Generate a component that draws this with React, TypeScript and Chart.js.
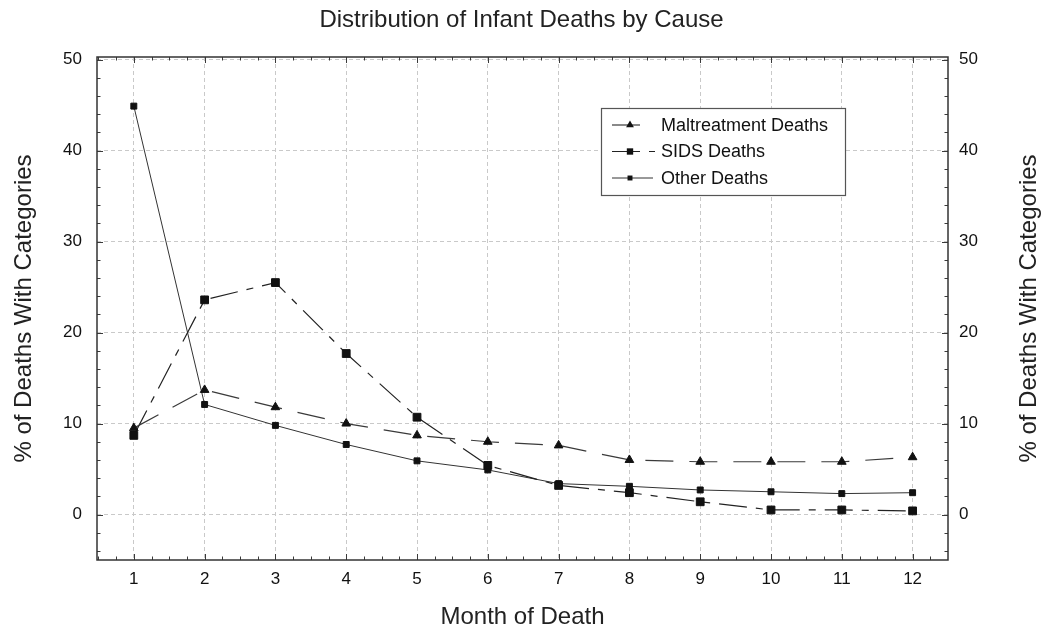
import React, { useEffect, useRef } from 'react';
import { Chart, registerables } from 'chart.js';

Chart.register(...registerables);

const FONT = "'Liberation Sans', Arial, Helvetica, sans-serif";

// ---- data ----
const months = [1, 2, 3, 4, 5, 6, 7, 8, 9, 10, 11, 12];
const maltreatmentDeaths = [9.5, 13.7, 11.8, 10.0, 8.7, 8.0, 7.6, 6.0, 5.8, 5.8, 5.8, 6.3];
const sidsDeaths = [8.7, 23.6, 25.5, 17.7, 10.7, 5.4, 3.2, 2.4, 1.4, 0.5, 0.5, 0.4];
const otherDeaths = [44.9, 12.1, 9.8, 7.7, 5.9, 4.9, 3.4, 3.1, 2.7, 2.5, 2.3, 2.4];
const yTickValues = [0, 10, 20, 30, 40, 50];
const seriesNames = ['Maltreatment Deaths', 'SIDS Deaths', 'Other Deaths'];
const chartTitle = 'Distribution of Infant Deaths by Cause';
const xAxisTitle = 'Month of Death';
const yAxisTitle = '% of Deaths With Categories';

const X_MIN = 0.48;
const X_MAX = 12.5;
const Y_MIN = -5;
const Y_MAX = 50.3;
const X_MINOR_STEP = 0.25;
const Y_MINOR_STEP = 2;

const toPoints = (vals: number[]) => months.map((m, i) => ({ x: m, y: vals[i] }));

const framePlugin = {
  id: 'frameTicks',
  afterDatasetsDraw(chart: any) {
    const { ctx, chartArea: a, scales } = chart;
    const xs = scales.x;
    const ys = scales.y;
    ctx.save();
    ctx.setLineDash([]);
    ctx.strokeStyle = '#3a3a3a';
    ctx.lineWidth = 1;
    ctx.beginPath();
    const nx = Math.round((X_MAX - 0.5) / X_MINOR_STEP);
    for (let i = 0; i <= nx; i++) {
      const v = 0.5 + i * X_MINOR_STEP;
      const px = Math.round(xs.getPixelForValue(v)) + 0.5;
      if (px <= a.left + 1 || px >= a.right - 1) continue;
      const major = Math.abs(v - Math.round(v)) < 1e-6;
      const len = major ? 6 : 3.5;
      ctx.moveTo(px, a.bottom);
      ctx.lineTo(px, a.bottom - len);
      ctx.moveTo(px, a.top);
      ctx.lineTo(px, a.top + len);
    }
    for (let v = -4; v <= 50; v += Y_MINOR_STEP) {
      const py = Math.round(ys.getPixelForValue(v)) + 0.5;
      if (py <= a.top + 1 || py >= a.bottom - 1) continue;
      const major = v % 10 === 0;
      const len = major ? 6 : 3.5;
      ctx.moveTo(a.left, py);
      ctx.lineTo(a.left + len, py);
      ctx.moveTo(a.right, py);
      ctx.lineTo(a.right - len, py);
    }
    ctx.stroke();
    ctx.lineWidth = 1.5;
    ctx.strokeStyle = '#333';
    ctx.strokeRect(a.left, a.top, a.right - a.left, a.bottom - a.top);
    ctx.restore();
  },
};

// right-hand axis title, reading bottom-to-top like the left one
const rightTitlePlugin = {
  id: 'rightTitle',
  afterDraw(chart: any) {
    const { ctx, chartArea: a, width } = chart;
    ctx.save();
    ctx.translate(width - 14, (a.top + a.bottom) / 2);
    ctx.rotate(-Math.PI / 2);
    ctx.fillStyle = '#222';
    ctx.font = `24px ${FONT}`;
    ctx.textAlign = 'center';
    ctx.textBaseline = 'middle';
    ctx.fillText(yAxisTitle, 0, 0);
    ctx.restore();
  },
};

function drawMarker(ctx: CanvasRenderingContext2D, style: string, x: number, y: number, r: number) {
  ctx.beginPath();
  if (style === 'triangle') {
    ctx.moveTo(x, y - r);
    ctx.lineTo(x + r * 0.87, y + r * 0.5);
    ctx.lineTo(x - r * 0.87, y + r * 0.5);
    ctx.closePath();
  } else {
    const s = r * Math.SQRT1_2;
    ctx.rect(x - s, y - s, 2 * s, 2 * s);
  }
  ctx.fill();
}

const legendPlugin = {
  id: 'boxLegend',
  afterDraw(chart: any) {
    const { ctx } = chart;
    const bx = 601;
    const by = 108;
    const bw = 244;
    const bh = 87;
    ctx.save();
    ctx.fillStyle = '#ffffff';
    ctx.fillRect(bx, by, bw, bh);
    ctx.strokeStyle = '#555';
    ctx.lineWidth = 1.2;
    ctx.setLineDash([]);
    ctx.strokeRect(bx + 0.5, by + 0.5, bw, bh);
    const lineEnds = [41, 54, 52];
    chart.data.datasets.forEach((ds: any, i: number) => {
      const cy = by + 17 + i * 26.5;
      ctx.strokeStyle = ds.borderColor;
      ctx.lineWidth = ds.borderWidth;
      ctx.setLineDash(ds.borderDash || []);
      ctx.beginPath();
      ctx.moveTo(bx + 11, cy);
      ctx.lineTo(bx + lineEnds[i], cy);
      ctx.stroke();
      ctx.setLineDash([]);
      ctx.fillStyle = ds.pointBackgroundColor;
      drawMarker(ctx, ds.pointStyle, bx + 29, cy, i === 2 ? 3.5 : 4.5);
      ctx.fillStyle = '#111';
      ctx.font = `18px ${FONT}`;
      ctx.textBaseline = 'middle';
      ctx.textAlign = 'left';
      ctx.fillText(ds.label, bx + 60, cy + 1);
    });
    ctx.restore();
  },
};

export default function App() {
  const canvasRef = useRef<HTMLCanvasElement | null>(null);

  useEffect(() => {
    document.body.style.margin = '0';
    const canvas = canvasRef.current;
    if (!canvas) return;
    Chart.defaults.font.family = FONT;

    const setTicks = (vals: number[]) => (scale: any) => {
      scale.ticks = vals.map((v) => ({ value: v }));
    };

    const gridCommon = { color: '#c9c9c9', lineWidth: 1, drawTicks: false };
    const borderCommon = { display: false, dash: [4, 3] };

    const chart = new Chart(canvas, {
      type: 'line',
      data: {
        datasets: [
          {
            label: seriesNames[0],
            data: toPoints(maltreatmentDeaths),
            borderColor: '#3a3a3a',
            borderWidth: 1.2,
            borderDash: [28, 16],
            pointStyle: 'triangle',
            pointRadius: 5,
            pointBackgroundColor: '#111',
            pointBorderColor: '#111',
            pointBorderWidth: 1,
            tension: 0,
          },
          {
            label: seriesNames[1],
            data: toPoints(sidsDeaths),
            borderColor: '#222',
            borderWidth: 1.2,
            borderDash: [28, 9, 7, 9],
            pointStyle: 'rect',
            pointRadius: 5.5,
            pointBackgroundColor: '#111',
            pointBorderColor: '#111',
            pointBorderWidth: 1,
            tension: 0,
          },
          {
            label: seriesNames[2],
            data: toPoints(otherDeaths),
            borderColor: '#333',
            borderWidth: 1,
            borderDash: [],
            pointStyle: 'rect',
            pointRadius: 4.2,
            pointBackgroundColor: '#111',
            pointBorderColor: '#111',
            pointBorderWidth: 1,
            tension: 0,
          },
        ],
      },
      options: {
        responsive: false,
        animation: false,
        devicePixelRatio: 1,
        layout: { padding: 0 },
        plugins: {
          legend: { display: false },
          tooltip: { enabled: false },
          title: {
            display: true,
            text: chartTitle,
            color: '#222',
            font: { family: FONT, size: 24, weight: 'normal' },
            padding: { top: 6, bottom: 22.2 },
          },
        },
        scales: {
          x: {
            type: 'linear',
            min: X_MIN,
            max: X_MAX,
            afterBuildTicks: setTicks(months),
            afterFit: (s: any) => {
              s.height = 69;
            },
            grid: gridCommon,
            border: borderCommon,
            ticks: {
              color: '#111',
              font: { family: FONT, size: 17 },
              padding: 9,
              maxRotation: 0,
              autoSkip: false,
            },
            title: {
              display: true,
              text: xAxisTitle,
              color: '#222',
              font: { family: FONT, size: 24, lineHeight: 1 },
              padding: { top: 0, bottom: 0 },
            },
          },
          y: {
            type: 'linear',
            position: 'left',
            min: Y_MIN,
            max: Y_MAX,
            afterBuildTicks: setTicks(yTickValues),
            afterFit: (s: any) => {
              s.width = 97;
            },
            grid: gridCommon,
            border: borderCommon,
            ticks: {
              color: '#111',
              font: { family: FONT, size: 17 },
              padding: 15,
            },
            title: {
              display: true,
              text: yAxisTitle,
              color: '#222',
              font: { family: FONT, size: 24 },
              padding: { top: 10, bottom: 0 },
            },
          },
          y2: {
            type: 'linear',
            position: 'right',
            min: Y_MIN,
            max: Y_MAX,
            afterBuildTicks: setTicks(yTickValues),
            afterFit: (s: any) => {
              s.width = 95;
            },
            grid: { display: false, drawTicks: false },
            border: { display: false },
            ticks: {
              color: '#111',
              font: { family: FONT, size: 17 },
              padding: 11,
            },
            title: { display: false },
          },
        },
      } as any,
      plugins: [framePlugin, legendPlugin, rightTitlePlugin],
    });

    return () => {
      chart.destroy();
    };
  }, []);

  return (
    <div style={{ width: 1043, height: 629 }}>
      <canvas ref={canvasRef} width={1043} height={629} style={{ display: 'block' }} />
    </div>
  );
}
